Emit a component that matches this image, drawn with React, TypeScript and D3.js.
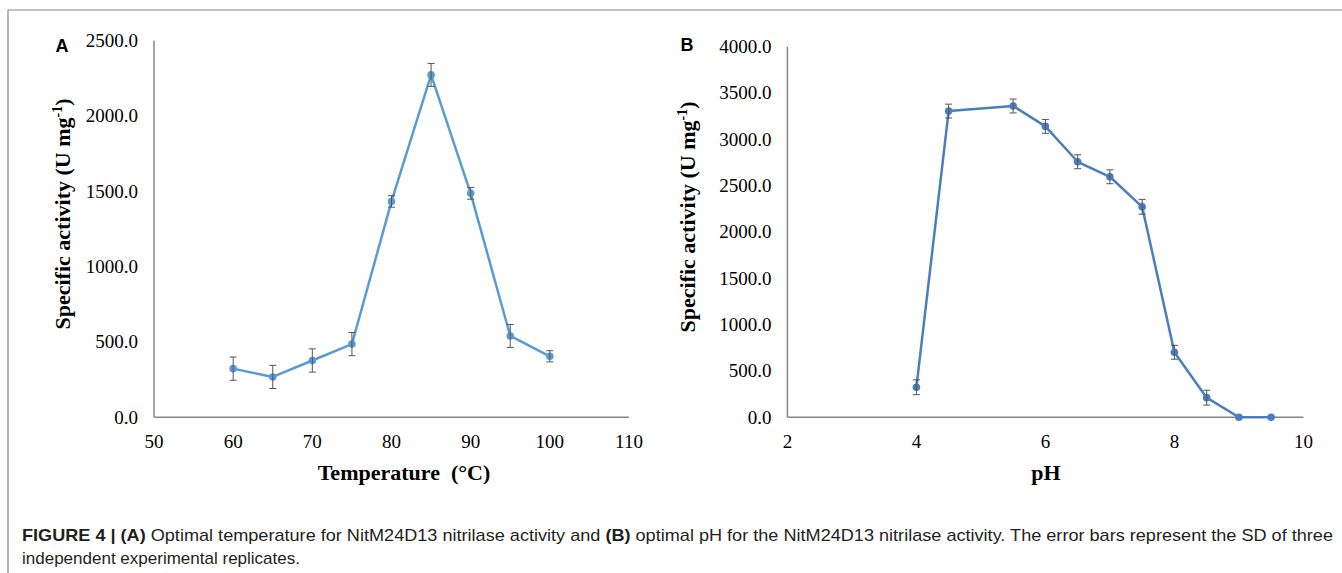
import React from 'react';
import * as d3 from 'd3';

// Panel A: temperature
const tempX = [60, 65, 70, 75, 80, 85, 90, 95, 100];
const tempY = [323, 268, 377, 486, 1433, 2273, 1487, 540, 405];
const tempSD = [77, 77, 77, 77, 38, 76, 39, 76, 37];
const tempXTicks = [50, 60, 70, 80, 90, 100, 110];
const tempYTicks = [0, 500, 1000, 1500, 2000, 2500];

// Panel B: pH
const phX = [4, 4.5, 5.5, 6, 6.5, 7, 7.5, 8, 8.5, 9, 9.5];
const phY = [324, 3305, 3360, 3140, 2758, 2596, 2272, 702, 212, 0, 0];
const phSD = [80, 75, 75, 75, 75, 75, 80, 75, 80, 0, 0];
const phXTicks = [2, 4, 6, 8, 10];
const phYTicks = [0, 500, 1000, 1500, 2000, 2500, 3000, 3500, 4000];

const SERIF = '"Liberation Serif", "Times New Roman", serif';
const SANS = '"Liberation Sans", Arial, Helvetica, sans-serif';
const AXIS = '#868686';
const ERR = '#555555';

type PanelProps = {
  xs: number[]; ys: number[]; sds: number[];
  xTicks: number[]; yTicks: number[];
  x0: number; x1: number; yTop: number; yBottom: number;
  color: string; letter: string; letterX: number; letterY: number;
  xTitle: string; xTitleX: number; yTitleX: number; yTitleY: number;
};

function Panel(p: PanelProps) {
  const x = d3.scaleLinear().domain([p.xTicks[0], p.xTicks[p.xTicks.length - 1]]).range([p.x0, p.x1]);
  const y = d3.scaleLinear().domain([p.yTicks[0], p.yTicks[p.yTicks.length - 1]]).range([p.yBottom, p.yTop]);
  const pts = p.xs.map((v, i) => [x(v), y(p.ys[i])] as [number, number]);
  const line = d3.line()(pts) || '';
  const fmt = d3.format('.1f');
  return (
    <g>
      {/* axes */}
      <line x1={p.x0} x2={p.x0} y1={p.yTop} y2={p.yBottom} stroke={AXIS} strokeWidth={1.5} />
      <line x1={p.x0} x2={p.x1} y1={p.yBottom} y2={p.yBottom} stroke={AXIS} strokeWidth={1.5} />
      {p.yTicks.map((t) => (
        <text key={'y' + t} x={p.x0 - 16} y={y(t)} dy="0.33em" textAnchor="end"
          fontFamily={SERIF} fontSize={19} fill="#000">{fmt(t)}</text>
      ))}
      {p.xTicks.map((t) => (
        <text key={'x' + t} x={x(t)} y={p.yBottom + 31} textAnchor="middle"
          fontFamily={SERIF} fontSize={19} fill="#000">{t}</text>
      ))}
      {/* series */}
      <path d={line} fill="none" stroke={p.color} strokeWidth={2.5} strokeLinejoin="round" />
      {pts.map(([cx, cy], i) => (
        <circle key={'c' + i} cx={cx} cy={cy} r={3.8} fill={p.color} />
      ))}
      {p.xs.map((v, i) => {
        if (!p.sds[i]) return null;
        const cx = x(v);
        const t = y(p.ys[i] + p.sds[i]);
        const b = y(p.ys[i] - p.sds[i]);
        return (
          <g key={'e' + i} stroke={ERR} strokeWidth={1}>
            <line x1={cx} x2={cx} y1={t} y2={b} />
            <line x1={cx - 3.5} x2={cx + 3.5} y1={t} y2={t} />
            <line x1={cx - 3.5} x2={cx + 3.5} y1={b} y2={b} />
          </g>
        );
      })}
      {/* titles */}
      <text x={p.letterX} y={p.letterY} textAnchor="middle" fontFamily={SANS} fontWeight="bold"
        fontSize={18} fill="#000">{p.letter}</text>
      <text x={p.xTitleX} y={p.yBottom + 63} textAnchor="middle" fontFamily={SERIF} fontWeight="bold"
        fontSize={22} fill="#000" style={{ whiteSpace: 'pre' }}>{p.xTitle}</text>
      <text transform={`translate(${p.yTitleX},${p.yTitleY}) rotate(-90)`} textAnchor="middle"
        fontFamily={SERIF} fontWeight="bold" fontSize={22} fill="#000">
        <tspan>Specific activity (U mg</tspan>
        <tspan dy={-8} fontSize={14}>-1</tspan>
        <tspan dy={8}>)</tspan>
      </text>
    </g>
  );
}

export default function App() {
  return (
    <svg width={1342} height={573} viewBox="0 0 1342 573"
      style={{ position: 'absolute', left: 0, top: 0, display: 'block', background: '#fff' }}>
      <rect x={0} y={0} width={1342} height={573} fill="#fff" />
      <line x1={8} x2={1342} y1={10} y2={10} stroke={AXIS} strokeWidth={1.2} />
      <line x1={8} x2={8} y1={10} y2={573} stroke={AXIS} strokeWidth={1.2} />
      <Panel xs={tempX} ys={tempY} sds={tempSD} xTicks={tempXTicks} yTicks={tempYTicks}
        x0={154} x1={629} yTop={40.7} yBottom={417.3} color="#5B9BD5"
        letter="A" letterX={62} letterY={52} xTitle={'Temperature  (°C)'} xTitleX={404}
        yTitleX={70} yTitleY={214} />
      <Panel xs={phX} ys={phY} sds={phSD} xTicks={phXTicks} yTicks={phYTicks}
        x0={787.4} x1={1303.4} yTop={46.7} yBottom={417.3} color="#4A7EBF"
        letter="B" letterX={687} letterY={50.5} xTitle="pH" xTitleX={1046}
        yTitleX={695} yTitleY={217} />
      <text x={22} y={541} fontFamily={SANS} fontSize={17} fill="#231f20" textLength={1311} lengthAdjust="spacingAndGlyphs">
        <tspan fontWeight="bold">FIGURE 4 | (A)</tspan>
        <tspan> Optimal temperature for NitM24D13 nitrilase activity and </tspan>
        <tspan fontWeight="bold">(B)</tspan>
        <tspan> optimal pH for the NitM24D13 nitrilase activity. The error bars represent the SD of three</tspan>
      </text>
      <text x={22} y={564} fontFamily={SANS} fontSize={17} fill="#231f20" textLength={278} lengthAdjust="spacingAndGlyphs">independent experimental replicates.</text>
    </svg>
  );
}
